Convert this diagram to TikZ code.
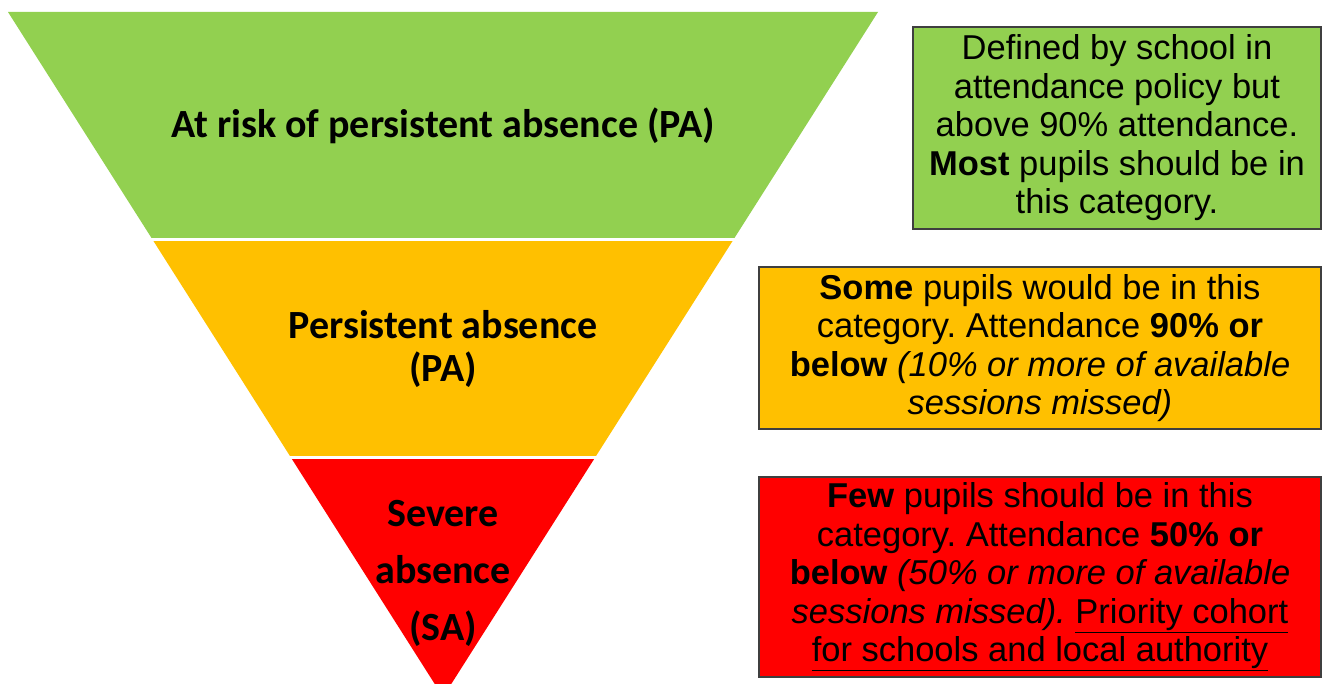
\documentclass[tikz,border=0pt]{standalone}
\usepackage{fontspec}
\setmainfont{Liberation Sans}
\newfontfamily\calib{Carlito}
\definecolor{pgreen}{HTML}{92D050}
\definecolor{porange}{HTML}{FFC000}
\definecolor{pred}{HTML}{FF0000}
\definecolor{pborder}{HTML}{3F3F3F}
\frenchspacing
\begin{document}
\begin{tikzpicture}[x=1pt,y=-1pt,
  tlabel/.style={align=center,font=\calib\bfseries\fontsize{40}{43}\selectfont,inner sep=0pt},
  infobox/.style={draw=pborder,line width=1.2pt,align=center,inner sep=0pt,
    font=\fontsize{34.5}{38.5}\selectfont}]
\useasboundingbox (0,0) rectangle (1325,684);
\begin{scope}
\clip (0,0) rectangle (1325,684);
\fill[pgreen] (8,12) -- (878,12) -- (733.2,240) -- (152.8,240) -- cycle;
\fill[porange] (152.8,240) -- (733.2,240) -- (595.4,457) -- (290.6,457) -- cycle;
\fill[pred] (290.6,457) -- (595.4,457) -- (443,697) -- cycle;
\draw[white,line width=3pt] (140,240) -- (750,240);
\draw[white,line width=3pt] (280,457) -- (610,457);
\end{scope}
\node[tlabel] (t1) at (443,126) {At risk of persistent absence (PA)};
\node[tlabel] (t2) at (443,349) {Persistent absence\\(PA)};
\node[tlabel,font=\calib\bfseries\fontsize{40}{57}\selectfont] (t3) at (443,573) {Severe\\absence\\(SA)};
\node[infobox,fill=pgreen,minimum width=408pt,minimum height=202pt] (b1) at (1117,128)
 {Defined by school in\\attendance policy but\\above 90\% attendance.\\\textbf{Most} pupils should be in\\this category.};
\node[infobox,fill=porange,minimum width=562pt,minimum height=162pt] (b2) at (1040,348)
 {\textbf{Some} pupils would be in this\\category. Attendance \textbf{90\% or}\\\textbf{below} \textit{(10\% or more of available}\\\textit{sessions missed)}};
\node[infobox,fill=pred,minimum width=562pt,minimum height=200pt] (b3) at (1040,577)
 {\textbf{Few} pupils should be in this\\category. Attendance \textbf{50\% or}\\\textbf{below} \textit{(50\% or more of available}\\\textit{sessions missed).} \underline{Priority cohort}\\\underline{for schools and local authority}};
\end{tikzpicture}
\end{document}
